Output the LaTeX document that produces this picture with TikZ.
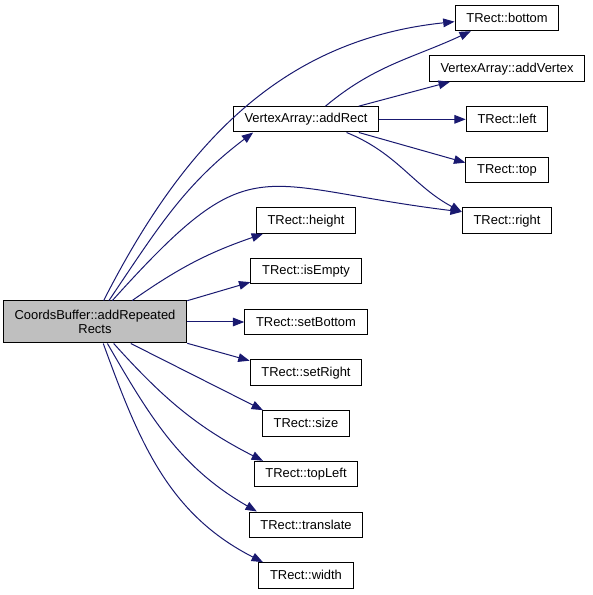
\documentclass[tikz,border=0pt]{standalone}
\usepackage{fontspec}
\setmainfont{Liberation Sans}
\usetikzlibrary{positioning}
\usetikzlibrary{arrows.meta}
\definecolor{calledge}{HTML}{191970}

\begin{document}
\begin{tikzpicture}[x=0.75pt,y=0.75pt,on grid,node distance=38pt,font=\fontsize{9.7}{10.5}\selectfont]

	\tikzstyle{fn}=[rectangle,draw=black,line width=0.75pt,minimum height=19pt,inner xsep=8.5pt,inner ysep=0pt]
	\tikzstyle{root}=[fn,fill=black!25,minimum width=135pt,minimum height=31.5pt,align=center]
	\tikzstyle{call}=[draw=calledge,line width=0.75pt,-{Triangle[length=8.5pt,width=6.5pt]}]

	\useasboundingbox (-95,-273) rectangle (497,322);

	\node [root] (main) {CoordsBuffer::addRepeated\\Rects};
	\node [fn] (setbottom) [right=158.25pt of main] {TRect::setBottom};
	\node [fn] (isempty) [above=of setbottom] {TRect::isEmpty};
	\node [fn] (height) [above=of isempty] {TRect::height};
	\node [fn] (addrect) [above=76pt of height] {VertexArray::addRect};
	\node [fn] (setright) [below=of setbottom] {TRect::setRight};
	\node [fn] (size) [below=of setright] {TRect::size};
	\node [fn] (topleft) [below=of size] {TRect::topLeft};
	\node [fn] (translate) [below=of topleft] {TRect::translate};
	\node [fn] (width) [below=of translate] {TRect::width};
	\node [fn] (right) [right=150.75pt of height] {TRect::right};
	\node [fn] (top) [above=of right] {TRect::top};
	\node [fn] (left) [above=of top] {TRect::left};
	\node [fn] (addvertex) [above=of left] {VertexArray::addVertex};
	\node [fn] (bottom) [above=of addvertex] {TRect::bottom};

	% calls from the root
	\draw [call] (main.68) to [out=63,in=186] (bottom.184);
	\draw [call] (main.57) to [out=56,in=217] (addrect.194);
	\draw [call] (main.51) to [out=48,in=173,looseness=1.5] (right.169);
	\draw [call] (main.30) to [bend left=8] (height.197);
	\draw [call] (main.13) -- (isempty.191);
	\draw [call] (main) -- (setbottom);
	\draw [call] (main.-13) -- (setright.168);
	\draw [call] (main.-31) -- (size.163);
	\draw [call] (main.-49) to [out=-48,in=153] (topleft.163);
	\draw [call] (main.-60) to [out=-60,in=150] (translate.165);
	\draw [call] (main.-69) to [out=-70,in=153] (width.163);

	% calls from addRect
	\draw [call] (addrect.34) to [out=40,in=205] (bottom.200);
	\draw [call] (addrect.14) -- (addvertex.193);
	\draw [call] (addrect) -- (left);
	\draw [call] (addrect.-14) -- (top.170);
	\draw [call] (addrect.-18) to [out=-22,in=152] (right.169);

\end{tikzpicture}
\end{document}
